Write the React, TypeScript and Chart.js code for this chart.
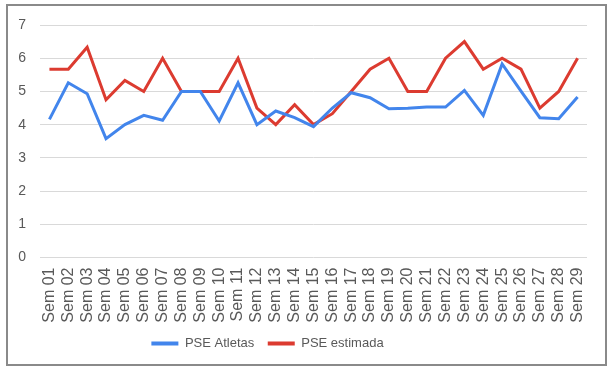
import React, { useEffect, useRef } from "react";
import { Chart, registerables } from "chart.js";

Chart.register(...registerables);

const categories = [
  "Sem 01", "Sem 02", "Sem 03", "Sem 04", "Sem 05", "Sem 06", "Sem 07", "Sem 08", "Sem 09", "Sem 10",
  "Sem 11", "Sem 12", "Sem 13", "Sem 14", "Sem 15", "Sem 16", "Sem 17", "Sem 18", "Sem 19", "Sem 20",
  "Sem 21", "Sem 22", "Sem 23", "Sem 24", "Sem 25", "Sem 26", "Sem 27", "Sem 28", "Sem 29",
];

const pseAtletas = [
  4.16, 5.26, 4.93, 3.58, 4.0, 4.28, 4.13, 5.0, 5.0, 4.11,
  5.26, 4.0, 4.41, 4.21, 3.94, 4.5, 4.96, 4.81, 4.48, 4.49,
  4.53, 4.53, 5.03, 4.28, 5.83, 5.01, 4.21, 4.18, 4.83,
];

const pseEstimada = [
  5.67, 5.67, 6.33, 4.75, 5.33, 5.0, 6.0, 5.0, 5.0, 5.0,
  6.0, 4.5, 4.0, 4.6, 4.0, 4.33, 5.0, 5.67, 6.0, 5.0,
  5.0, 6.0, 6.5, 5.67, 6.0, 5.67, 4.5, 5.0, 6.0,
];

const yTicks = [0, 1, 2, 3, 4, 5, 6, 7];

const FONT = "'Liberation Sans', Arial, sans-serif";
const TEXT = "#595959";

const frame = {
  id: "frame",
  beforeDraw(chart: any) {
    const ctx = chart.ctx;
    ctx.save();
    ctx.fillStyle = "#ffffff";
    ctx.fillRect(0, 0, chart.width, chart.height);
    ctx.strokeStyle = "#8a8a8a";
    ctx.lineWidth = 2;
    ctx.strokeRect(7, 5, 599, 360);
    ctx.restore();
    if (chart.legend) {
      chart.legend.left -= 26;
      chart.legend.right -= 26;
    }
  },
};

export default function App() {
  const ref = useRef<HTMLCanvasElement | null>(null);

  useEffect(() => {
    if (!ref.current) return;
    const chart = new Chart(ref.current, {
      type: "line",
      data: {
        labels: categories,
        datasets: [
          {
            label: "PSE Atletas",
            data: pseAtletas,
            borderColor: "#4285ec",
            backgroundColor: "#4285ec",
            borderWidth: 3,
            pointRadius: 0,
            tension: 0,
          },
          {
            label: "PSE estimada",
            data: pseEstimada,
            borderColor: "#dc3b30",
            backgroundColor: "#dc3b30",
            borderWidth: 3,
            pointRadius: 0,
            tension: 0,
          },
        ],
      },
      options: {
        animation: false,
        responsive: false,
        devicePixelRatio: 1,
        layout: { padding: { left: 0, right: 27, top: 25, bottom: 16 } },
        plugins: {
          legend: {
            position: "bottom",
            labels: {
              font: { family: FONT, size: 13 },
              color: TEXT,
              boxWidth: 27,
              boxHeight: 4,
              padding: 13.5,
              generateLabels: (c: any) => {
                const items = Chart.defaults.plugins.legend.labels.generateLabels(c);
                return items.map((it: any) => ({ ...it, lineWidth: 0 }));
              },
            },
          },
          tooltip: { enabled: false },
        },
        scales: {
          x: {
            offset: true,
            grid: { display: false, drawTicks: false },
            border: { display: false },
            ticks: {
              minRotation: 90,
              maxRotation: 90,
              autoSkip: false,
              padding: 10,
              font: { family: FONT, size: 16 },
              color: TEXT,
            },
            afterFit: (s: any) => {
              s.height = 66;
            },
          },
          y: {
            min: 0,
            max: 7,
            afterBuildTicks: (s: any) => {
              s.ticks = yTicks.map((v) => ({ value: v }));
            },
            grid: { color: "#d9d9d9", lineWidth: 1, drawTicks: false },
            border: { display: false },
            ticks: {
              padding: 14,
              font: { family: FONT, size: 14 },
              color: TEXT,
            },
            afterFit: (s: any) => {
              s.width = 40;
            },
          },
        },
      },
      plugins: [frame],
    });
    return () => chart.destroy();
  }, []);

  return (
    <div style={{ position: "fixed", left: 0, top: 0, width: 614, height: 376, background: "#fff" }}>
      <canvas ref={ref} width={614} height={376} style={{ display: "block" }} />
    </div>
  );
}
